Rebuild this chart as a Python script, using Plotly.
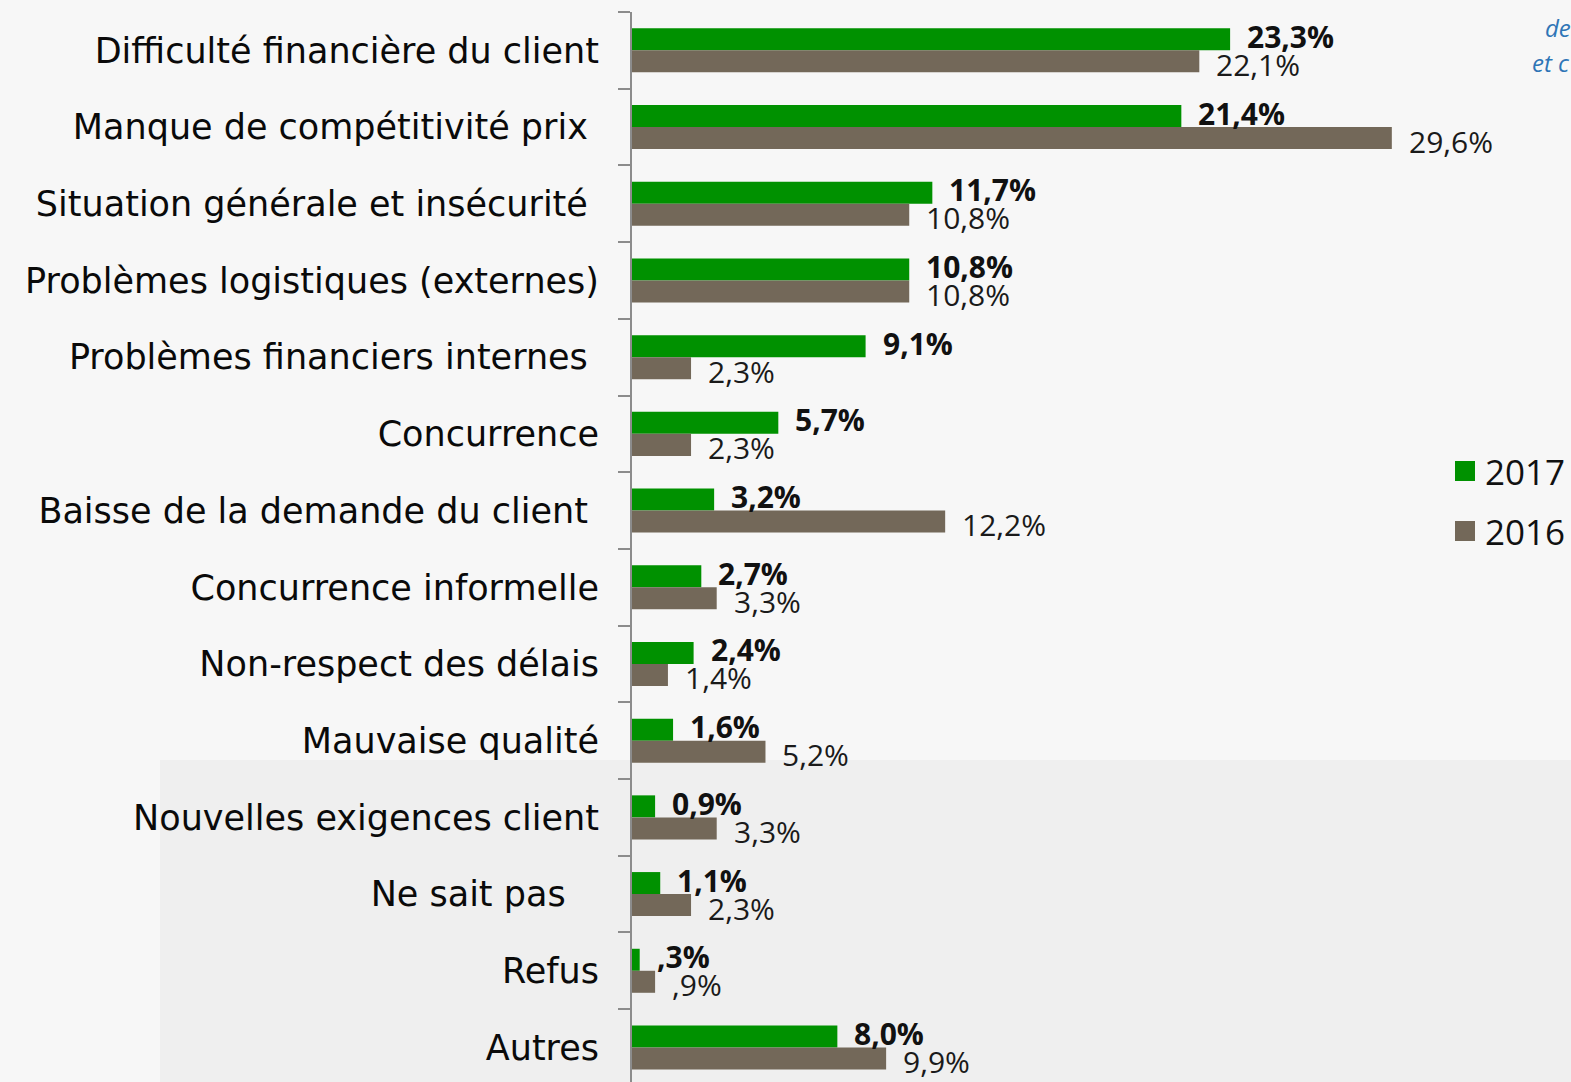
import plotly.graph_objects as go

categories = [
    "Difficulté financière du client",
    "Manque de compétitivité prix",
    "Situation générale et insécurité",
    "Problèmes logistiques (externes)",
    "Problèmes financiers internes",
    "Concurrence",
    "Baisse de la demande du client",
    "Concurrence informelle",
    "Non-respect des délais",
    "Mauvaise qualité",
    "Nouvelles exigences client",
    "Ne sait pas",
    "Refus",
    "Autres",
]
# trailing padding (in spaces) seen in the original labels
label_pad = [0, 1, 1, 0, 1, 0, 1, 0, 0, 0, 0, 3, 0, 0]

values_2017 = [23.3, 21.4, 11.7, 10.8, 9.1, 5.7, 3.2, 2.7, 2.4, 1.6, 0.9, 1.1, 0.3, 8.0]
values_2016 = [22.1, 29.6, 10.8, 10.8, 2.3, 2.3, 12.2, 3.3, 1.4, 5.2, 3.3, 2.3, 0.9, 9.9]

labels_2017 = ["23,3%", "21,4%", "11,7%", "10,8%", "9,1%", "5,7%", "3,2%", "2,7%",
               "2,4%", "1,6%", "0,9%", "1,1%", ",3%", "8,0%"]
labels_2016 = ["22,1%", "29,6%", "10,8%", "10,8%", "2,3%", "2,3%", "12,2%", "3,3%",
               "1,4%", "5,2%", "3,3%", "2,3%", ",9%", "9,9%"]

series_names = ["2017", "2016"]

GREEN = "#009100"
BROWN = "#736859"

ylabels = [c + "\u00a0" * p for c, p in zip(categories, label_pad)]

W, H = 1571, 1082
ML, MR, MT, MB = 632, 16, 12, 0
PW, PH = W - ML - MR, H - MT - MB


def px_x(px):
    return (px - ML) / PW


def px_y(py):
    return 1 - (py - MT) / PH


fig = go.Figure()
fig.add_trace(go.Bar(y=ylabels, x=values_2017, orientation="h", name=series_names[0],
                     marker=dict(color=GREEN, line=dict(width=0)), showlegend=False))
fig.add_trace(go.Bar(y=ylabels, x=values_2016, orientation="h", name=series_names[1],
                     marker=dict(color=BROWN, line=dict(width=0)), showlegend=False))

annotations = []
for cat, v, t in zip(ylabels, values_2017, labels_2017):
    annotations.append(dict(x=v, y=cat, xref="x", yref="y", text="<b>" + t + "</b>",
                            showarrow=False, xanchor="left", yanchor="middle",
                            xshift=15, yshift=14,
                            font=dict(family="Open Sans", size=30, color="#111111")))
for cat, v, t in zip(ylabels, values_2016, labels_2016):
    annotations.append(dict(x=v, y=cat, xref="x", yref="y", text=t,
                            showarrow=False, xanchor="left", yanchor="middle",
                            xshift=15, yshift=-14,
                            font=dict(family="Open Sans", size=30, color="#1a1a1a")))

# manual legend (large squares)
shapes = [dict(type="rect", xref="paper", yref="paper",
               x0=px_x(160), x1=1.05, y0=-0.05, y1=px_y(760),
               fillcolor="#efefef", line=dict(width=0), layer="below")]
for i, (name, col) in enumerate(zip(series_names, [GREEN, BROWN])):
    cy = 471 + 60 * i
    shapes.append(dict(type="rect", xref="paper", yref="paper",
                       x0=px_x(1455), x1=px_x(1475), y0=px_y(cy + 10), y1=px_y(cy - 10),
                       fillcolor=col, line=dict(width=0)))
    annotations.append(dict(x=px_x(1483), y=px_y(cy), xref="paper", yref="paper",
                            text=name, showarrow=False, xanchor="left", yanchor="middle",
                            font=dict(family="Open Sans", size=35, color="#111111")))

# partial italic blue text at top right (cut by the page edge)
annotations.append(dict(x=px_x(1543), y=px_y(28), xref="paper", yref="paper",
                        text="<i>de</i>", showarrow=False, xanchor="left", yanchor="middle",
                        font=dict(family="Open Sans", size=24, color="#2e75b6")))
annotations.append(dict(x=px_x(1530), y=px_y(62), xref="paper", yref="paper",
                        text="<i>et c</i>", showarrow=False, xanchor="left", yanchor="middle",
                        font=dict(family="Open Sans", size=24, color="#2e75b6")))

fig.update_layout(
    width=W, height=H,
    margin=dict(l=ML, r=MR, t=MT, b=MB, pad=0),
    paper_bgcolor="#f7f7f7",
    plot_bgcolor="rgba(0,0,0,0)",
    barmode="group",
    bargap=0.426,
    bargroupgap=0,
    showlegend=False,
    annotations=annotations,
    shapes=shapes,
)

fig.update_xaxes(range=[0, PW / 25.67], visible=False, showgrid=False, zeroline=False)
fig.update_yaxes(type="category", range=[13.45, -0.5], showgrid=False, zeroline=False,
                 showline=True, linecolor="#8c8c8c", linewidth=2,
                 ticks="outside", ticklen=12, tickcolor="#8c8c8c", tickwidth=2,
                 tickson="boundaries", ticklabelstandoff=24,
                 tickfont=dict(family="DejaVu Sans", size=35, color="#0a0a0a"))

fig.write_html(
    "out.html",
    config={"displayModeBar": False},
    post_script="document.body.style.margin='0';document.body.style.background='#f7f7f7';",
)
